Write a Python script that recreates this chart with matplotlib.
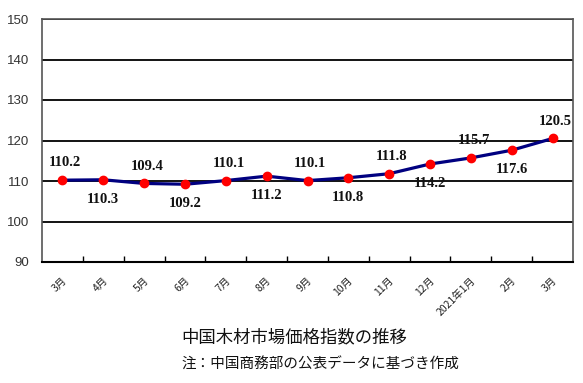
import matplotlib.pyplot as plt

plt.rcParams['font.family'] = ['Noto Sans CJK JP', 'DejaVu Sans']

# data
months = ['3月', '4月', '5月', '6月', '7月', '8月', '9月', '10月', '11月',
          '12月', '2021年1月', '2月', '3月']
index_values = [110.2, 110.3, 109.4, 109.2, 110.1, 111.2, 110.1, 110.8,
                111.8, 114.2, 115.7, 117.6, 120.5]
y_ticks = [90, 100, 110, 120, 130, 140, 150]

fig = plt.figure(figsize=(5.83, 3.83), dpi=100)
ax = fig.add_axes([42 / 583, 1 - 262 / 383, 531 / 583, 243 / 383])

x = list(range(len(months)))
ax.plot(x, index_values, color='#000080', linewidth=2.3, zorder=3)
ax.plot(x, index_values, 'o', color='#ff0000', markersize=6, zorder=4)

# value labels, alternating above / below
for i, v in enumerate(index_values):
    if i % 2 == 0:
        offset = (2, 12.5)
    else:
        offset = (0, -14)
    ax.annotate(f'{v:.1f}', (i, v), xytext=offset, textcoords='offset points',
                ha='center', va='center', fontsize=10.5, fontweight='bold',
                family='Liberation Serif', color='#111111')

ax.set_xlim(-0.5, len(months) - 0.5)
ax.set_ylim(90, 150)
ax.set_yticks(y_ticks)
ax.yaxis.grid(True, color='black', linewidth=1.3)
ax.set_axisbelow(True)

ax.set_yticklabels([str(t) for t in y_ticks], fontsize=9.5, color='#333333',
                   family='Liberation Sans')
ax.tick_params(axis='y', length=0, pad=9)

# category ticks at boundaries, labels at centers
ax.set_xticks([i + 0.5 for i in range(len(months) - 1)])
ax.set_xticklabels([])
ax.tick_params(axis='x', direction='in', length=4, width=1, color='black')
for i, m in enumerate(months):
    ax.text(i - 0.02, 86.8, m, rotation=45, ha='right', va='top', fontsize=7.5,
            color='#222222', rotation_mode='anchor')

for side in ['left', 'top', 'right']:
    ax.spines[side].set_color('#555555')
    ax.spines[side].set_linewidth(1.2)
ax.spines['bottom'].set_color('black')
ax.spines['bottom'].set_linewidth(1.5)

fig.text(181 / 583, 1 - 337 / 383, '中国木材市場価格指数の推移', fontsize=12.5,
         ha='left', va='center', color='#111111')
fig.text(181 / 583, 1 - 365 / 383, '注：中国商務部の公表データに基づき作成', fontsize=10.5,
         ha='left', va='center', color='#111111')

fig.savefig('out.png', dpi=100)
